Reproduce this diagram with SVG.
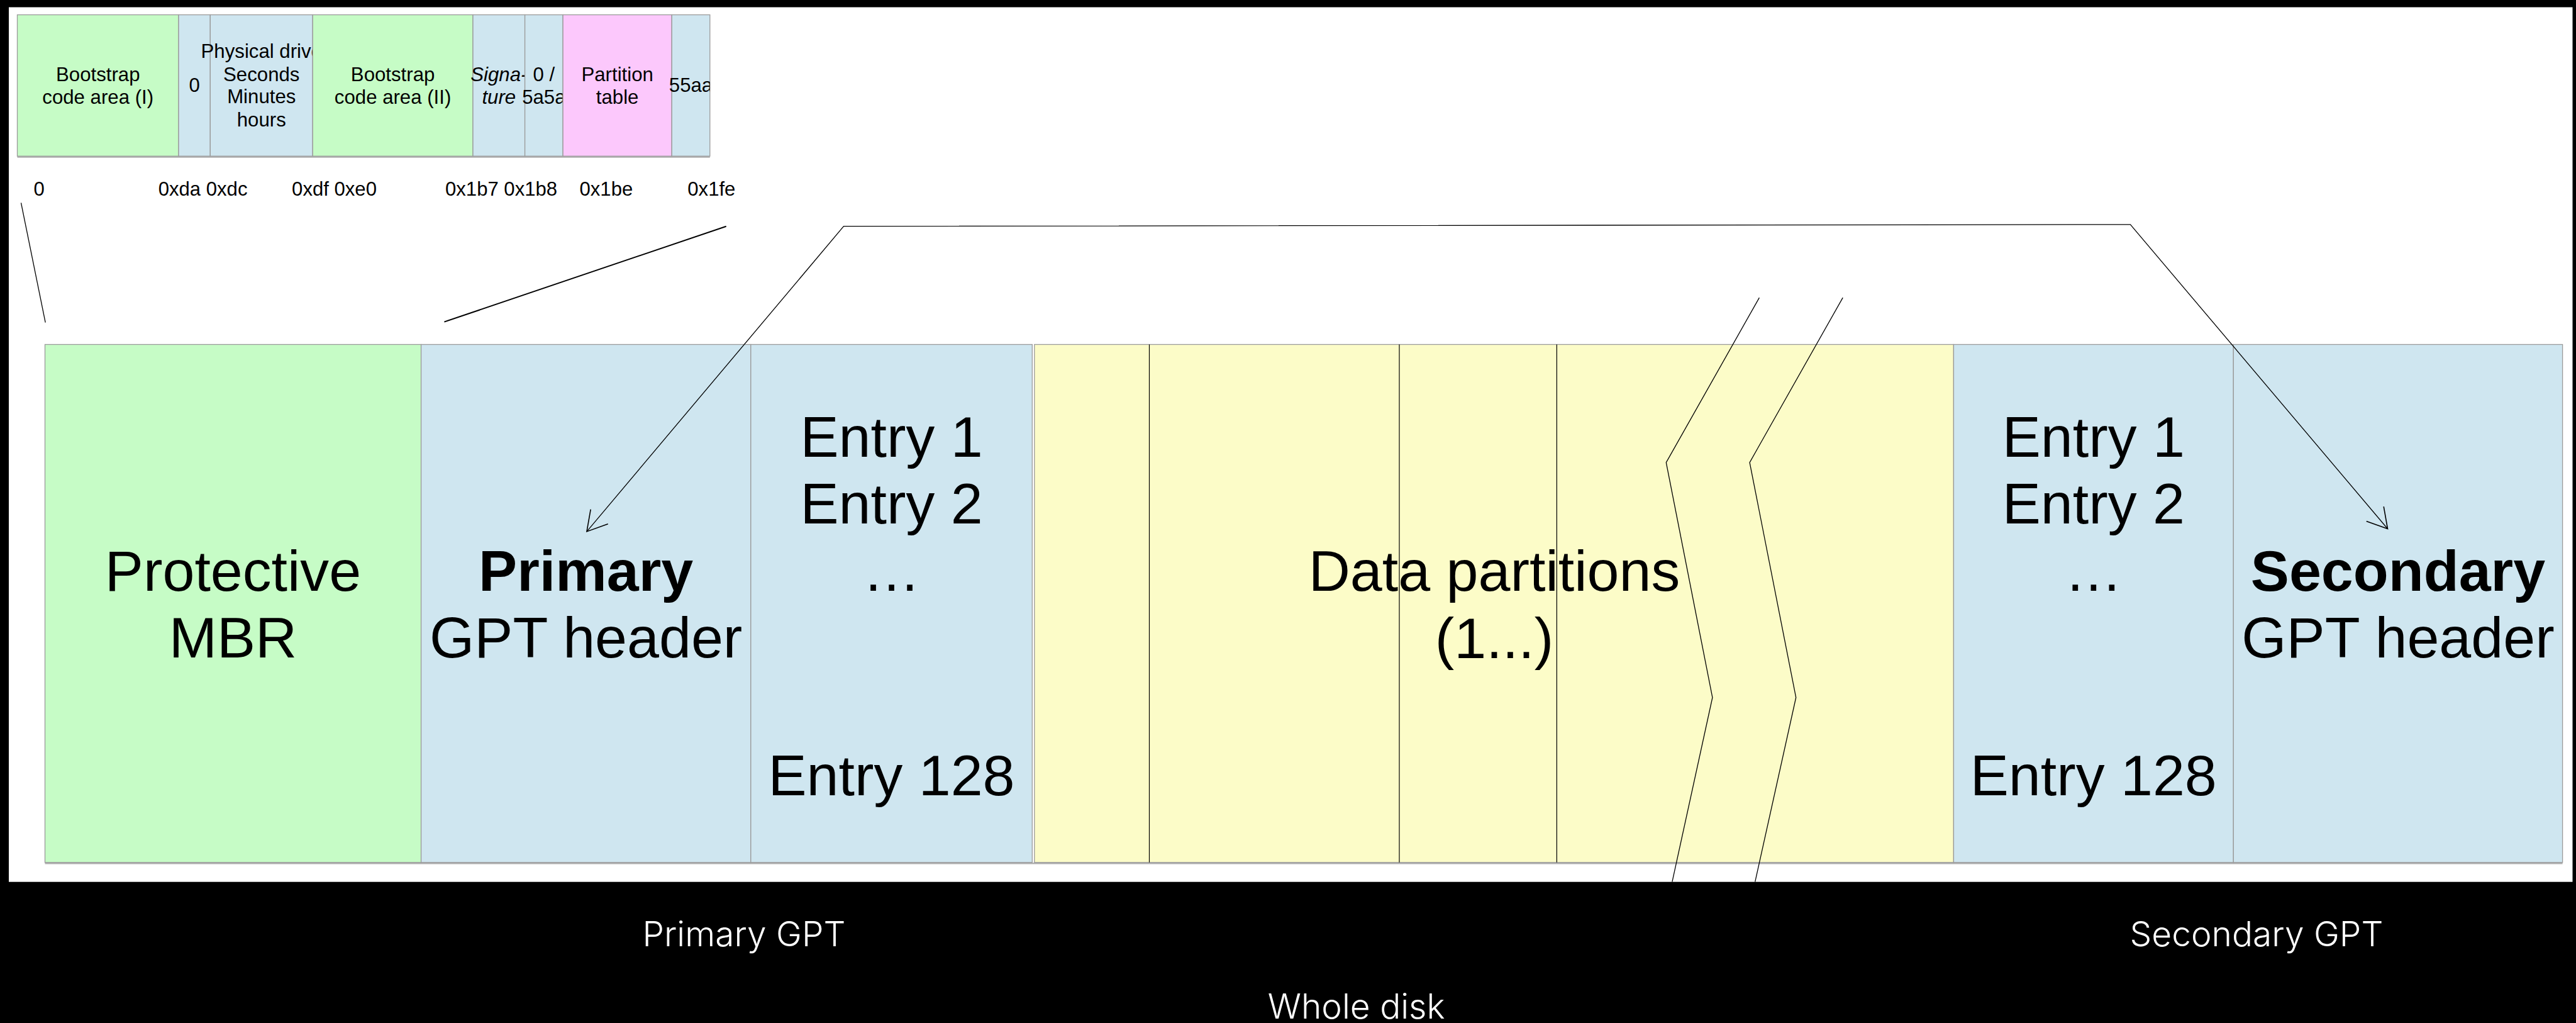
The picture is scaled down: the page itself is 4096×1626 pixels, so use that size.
<svg xmlns="http://www.w3.org/2000/svg" width="4096" height="1626" viewBox="0 0 4096 1626">
<style>
.bx{stroke:#9a9a9a;stroke-width:1.3}
.g{fill:#c6fcc6}.b{fill:#cfe6f0}.p{fill:#fcc8fc}.y{fill:#fcfcc8}
.t{font-family:"Liberation Sans",Arial,sans-serif;fill:#000;text-anchor:middle}
.s{font-size:31.2px}
.o{font-size:31.1px;text-anchor:start}
.big{font-size:91.6px}
.bold{font-weight:bold}
.it{font-style:italic}
.cap{font-family:Inter,"Noto Sans",sans-serif;font-weight:300;font-size:55px;fill:#fff;text-anchor:middle}
.ln{fill:none;stroke:#000;stroke-width:1.3}
.div{stroke:#000;stroke-width:1.2}
.sh{stroke:#b0b0b0;stroke-width:2.5}
</style>
<defs>
<marker id="arr" markerUnits="userSpaceOnUse" markerWidth="80" markerHeight="80" viewBox="-40 -40 80 80" refX="0" refY="0" orient="auto-start-reverse">
<path d="M-31,-18 L0,0 L-31,18" fill="none" stroke="#000" stroke-width="1.6"/>
</marker>
<clipPath id="c1"><rect x="0" y="23.5" width="284" height="224.7"/></clipPath>
<clipPath id="c2"><rect x="250" y="23.5" width="84.3" height="224.7"/></clipPath>
<clipPath id="c3"><rect x="300" y="23.5" width="197.2" height="224.7"/></clipPath>
<clipPath id="c4"><rect x="460" y="23.5" width="292" height="224.7"/></clipPath>
<clipPath id="c5"><rect x="720" y="23.5" width="114.6" height="224.7"/></clipPath>
<clipPath id="c6"><rect x="800" y="23.5" width="95.1" height="224.7"/></clipPath>
<clipPath id="c7"><rect x="860" y="23.5" width="208.2" height="224.7"/></clipPath>
<clipPath id="c8"><rect x="1030" y="23.5" width="98.8" height="224.7"/></clipPath>
</defs>
<rect x="0" y="0" width="4096" height="1626" fill="#000"/>
<rect x="14" y="11.5" width="4076.5" height="1390.2" fill="#fff"/>

<!-- MBR detail -->
<g id="mbr-detail">
<line class="sh" x1="27.5" y1="249.5" x2="1128.8" y2="249.5"/>
<g id="m1"><rect class="bx g" x="27.5" y="23.5" width="256.5" height="224.7"/>
<text class="t s" clip-path="url(#c1)"><tspan x="155.75" y="129">Bootstrap</tspan><tspan x="155.75" y="165">code area (I)</tspan></text></g>
<g id="m2"><rect class="bx b" x="284" y="23.5" width="50.3" height="224.7"/>
<text class="t s" clip-path="url(#c2)" x="309.15" y="146">0</text></g>
<g id="m3"><rect class="bx b" x="334.3" y="23.5" width="162.9" height="224.7"/>
<text class="t s" clip-path="url(#c3)"><tspan x="415.75" y="91.5">Physical drive</tspan><tspan x="415.75" y="129">Seconds</tspan><tspan x="415.75" y="164">Minutes</tspan><tspan x="415.75" y="200.5">hours</tspan></text></g>
<g id="m4"><rect class="bx g" x="497.2" y="23.5" width="254.8" height="224.7"/>
<text class="t s" clip-path="url(#c4)"><tspan x="624.6" y="129">Bootstrap</tspan><tspan x="624.6" y="165">code area (II)</tspan></text></g>
<g id="m5"><rect class="bx b" x="752" y="23.5" width="82.6" height="224.7"/>
<text class="t s it" clip-path="url(#c5)"><tspan x="793.3" y="129">Signa-</tspan><tspan x="793.3" y="165">ture</tspan></text></g>
<g id="m6"><rect class="bx b" x="834.6" y="23.5" width="60.5" height="224.7"/>
<text class="t s" clip-path="url(#c6)"><tspan x="864.85" y="129">0 /</tspan><tspan x="864.85" y="165">5a5a</tspan></text></g>
<g id="m7"><rect class="bx p" x="895.1" y="23.5" width="173.1" height="224.7"/>
<text class="t s" clip-path="url(#c7)"><tspan x="981.65" y="129">Partition</tspan><tspan x="981.65" y="165">table</tspan></text></g>
<g id="m8"><rect class="bx b" x="1068.2" y="23.5" width="60.6" height="224.7"/>
<text class="t s" clip-path="url(#c8)" x="1098.5" y="146">55aa</text></g>
</g>

<g id="offsets">
<text class="t o" x="53.5" y="311">0</text>
<text class="t o" x="251.7" y="311">0xda 0xdc</text>
<text class="t o" x="464.1" y="311">0xdf 0xe0</text>
<text class="t o" x="708" y="311">0x1b7 0x1b8</text>
<text class="t o" x="921.5" y="311">0x1be</text>
<text class="t o" x="1093.3" y="311">0x1fe</text>
</g>

<!-- disk layout -->
<g id="disk">
<line class="sh" x1="71.5" y1="1372.3" x2="4074.6" y2="1372.3"/>
<g id="pmbr"><rect class="bx g" x="71.5" y="547.5" width="598.1" height="823.3"/>
<text class="t big"><tspan x="370.5" y="938.5">Protective</tspan><tspan x="370.5" y="1044.5">MBR</tspan></text></g>
<g id="phdr"><rect class="bx b" x="669.6" y="547.5" width="524.2" height="823.3"/>
<text class="t big"><tspan class="bold" x="931.7" y="938.5">Primary</tspan><tspan x="931.7" y="1044.5">GPT header</tspan></text></g>
<g id="pent"><rect class="bx b" x="1193.8" y="547.5" width="447.5" height="823.3"/>
<text class="t big"><tspan x="1417.5" y="725.6">Entry 1</tspan><tspan x="1417.5" y="832.3">Entry 2</tspan><tspan x="1417.5" y="939">…</tspan><tspan x="1417.5" y="1263.5">Entry 128</tspan></text></g>
<g id="data"><rect class="bx y" x="1644.8" y="547.5" width="1461.6" height="823.3"/>
<line class="div" x1="1827.5" y1="547.5" x2="1827.5" y2="1370.8"/>
<line class="div" x1="2225" y1="547.5" x2="2225" y2="1370.8"/>
<line class="div" x1="2475.4" y1="547.5" x2="2475.4" y2="1370.8"/>
<text class="t big"><tspan x="2376" y="938.8">Data partitions</tspan><tspan x="2376" y="1046">(1...)</tspan></text></g>
<g id="sent"><rect class="bx b" x="3106.4" y="547.5" width="444.9" height="823.3"/>
<text class="t big"><tspan x="3328.8" y="725.6">Entry 1</tspan><tspan x="3328.8" y="832.3">Entry 2</tspan><tspan x="3328.8" y="939">…</tspan><tspan x="3328.8" y="1263.5">Entry 128</tspan></text></g>
<g id="shdr"><rect class="bx b" x="3551.3" y="547.5" width="523.3" height="823.3"/>
<text class="t big"><tspan class="bold" x="3813" y="938.5">Secondary</tspan><tspan x="3813" y="1044.5">GPT header</tspan></text></g>
</g>

<g id="connectors">
<line class="ln" x1="33.5" y1="322.4" x2="72.2" y2="512.7"/>
<line class="ln" style="stroke-width:2" x1="1154.7" y1="359.7" x2="706.4" y2="511.6"/>
<polyline class="ln" points="933,844.9 1341.5,359.7 3387.4,356.8 3796.5,840.5" marker-start="url(#arr)" marker-end="url(#arr)"/>
<polyline class="ln" points="2797.4,473.1 2649.3,735.1 2722.9,1108.7 2658.9,1401.7"/>
<polyline class="ln" points="2930.2,473.1 2782.1,735.1 2855.7,1108.7 2790.7,1401.7"/>
</g>

<g id="captions">
<text class="cap" x="1183" y="1504">Primary GPT</text>
<text class="cap" x="3588" y="1504">Secondary GPT</text>
<text class="cap" x="2156.7" y="1619">Whole disk</text>
</g>
</svg>
